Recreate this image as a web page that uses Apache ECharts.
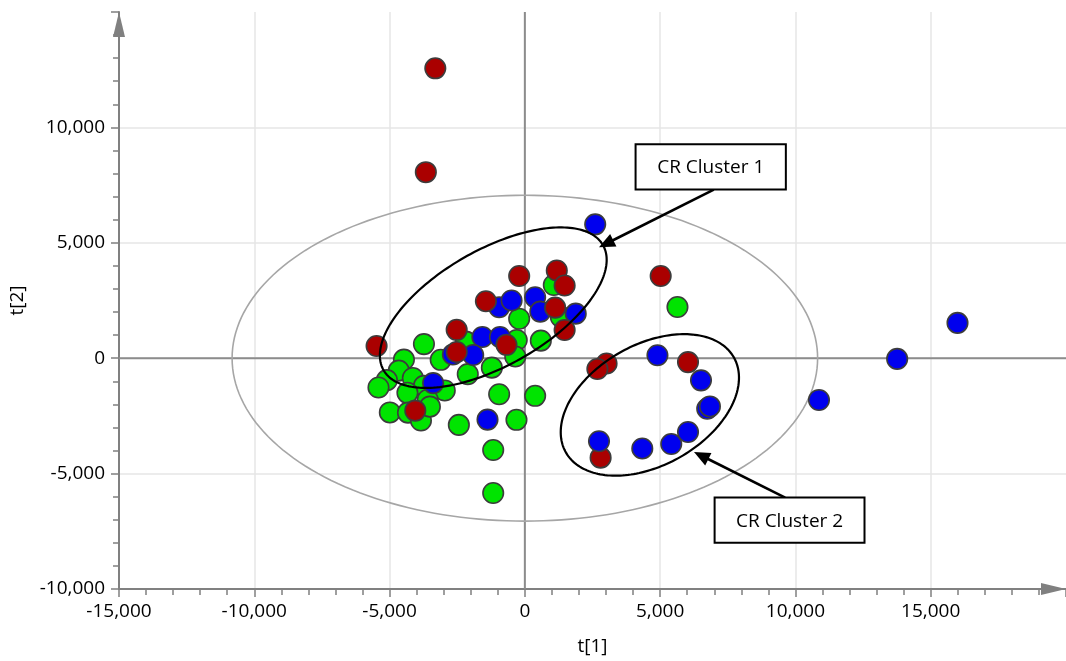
<!DOCTYPE html>
<html>
<head>
<meta charset="utf-8">
<script src="https://cdn.jsdelivr.net/npm/echarts@6/dist/echarts.min.js"></script>
<style>
  html, body { margin: 0; padding: 0; background: #fff; }
  #chart { width: 1066px; height: 661px; }
</style>
</head>
<body>
<div id="chart"></div>
<script>
// Score plot t[1] vs t[2], one array of [t1, t2] scores per class.
const scoresGreen = [
  [-3730, 610], [-4470, -60], [-4660, -540], [-5100, -950], [-5410, -1270],
  [-4140, -860], [-3110, -70], [-2180, 720], [-300, 790], [-355, 75],
  [-1220, -410], [-2110, -690], [-2960, -1400], [-3730, -1200], [-4340, -1500],
  [-3590, -1800], [-4990, -2350], [-4320, -2360], [-3840, -2700], [-3510, -2100],
  [-950, -1560], [380, -1630], [-2440, -2890], [-310, -2670], [-1170, -3980],
  [-1170, -5840], [-210, 1710], [590, 760], [1070, 3170], [1330, 1790],
  [5640, 2220]
];
const scoresBlue = [
  [2600, 5800], [15990, 1530], [13760, -30], [10870, -1810], [4900, 130],
  [6510, -960], [6740, -2190], [6840, -2090], [6030, -3200], [5410, -3720],
  [4340, -3910], [-950, 2210], [-490, 2500], [380, 2640],
  [570, 2020], [1880, 1930], [-1570, 920], [-920, 920], [-1910, 140],
  [-2660, 160], [-3390, -1080], [-1380, -2660]
];
const scoresRed = [
  [-3310, 12560], [-3660, 8060], [-5480, 530], [-2520, 1230], [-2520, 270],
  [-1440, 2470], [-210, 3560], [-680, 580], [1180, 3800], [1470, 3150],
  [1120, 2190], [1470, 1220], [-4050, -2270], [5020, 3560], [3020, -230],
  [2680, -470], [6030, -170], [2800, -4310]
];
// blue scores plotted above the red layer
const scoresBlueTop = [
  [2740, -3600]
];

// Axis ranges and tick step
const xRange = [-15000, 20000];
const yRange = [-10000, 15000];
const tickStep = 5000;

// Hotelling T2 ellipse semi-axes (t1, t2)
const t2Ellipse = { cx: 0, cy: 0, ux: 10820, uy: 0, vx: 0, vy: 7060 };

// Cluster outlines: centre plus two conjugate half-axis vectors, in score units
const clusterOutlines = [
  { cx: -1167, cy: 2190, ux: 4047, uy: 2724, vx: -1089, vy: 2161 },
  { cx: 4620, cy: -2024, ux: 3093, uy: 2081, vx: -1133, vy: 2251 }
];

// Callout boxes (corners in score units) and their pointer arrows
const callouts = [
  { text: 'CR Cluster 1', box: [4092, 9270, 9646, 7306], from: [6983, 7306], to: [2740, 4804] },
  { text: 'CR Cluster 2', box: [7013, -6038, 12553, -7993], from: [9620, -6038], to: [6252, -4065] }
];

const fmt = v => Number(v).toLocaleString('en-US');
const fontFamily = '"Open Sans", sans-serif';
const labelFont = { fontFamily, fontSize: 19, color: '#000' };
const axisGray = '#808080';

function ellipseShape(api, e, color, width) {
  const pts = [];
  const n = 200;
  for (let i = 0; i <= n; i++) {
    const t = (i / n) * Math.PI * 2;
    pts.push(api.coord([
      e.cx + e.ux * Math.cos(t) + e.vx * Math.sin(t),
      e.cy + e.uy * Math.cos(t) + e.vy * Math.sin(t)
    ]));
  }
  return { type: 'polyline', shape: { points: pts }, style: { fill: null, stroke: color, lineWidth: width } };
}

function arrowShapes(api, from, to) {
  const p0 = api.coord(from), p1 = api.coord(to);
  const dx = p1[0] - p0[0], dy = p1[1] - p0[1];
  const len = Math.hypot(dx, dy);
  const ux = dx / len, uy = dy / len;
  const hl = 16, hw = 7;
  const b = [p1[0] - ux * hl, p1[1] - uy * hl];
  return [
    { type: 'line', shape: { x1: p0[0], y1: p0[1], x2: b[0] + ux * 2, y2: b[1] + uy * 2 },
      style: { stroke: '#000', lineWidth: 2.6 } },
    { type: 'polygon', shape: { points: [p1, [b[0] - uy * hw, b[1] + ux * hw], [b[0] + uy * hw, b[1] - ux * hw]] },
      style: { fill: '#000' } }
  ];
}

function calloutShapes(api, c) {
  const a = api.coord([c.box[0], c.box[1]]);
  const d = api.coord([c.box[2], c.box[3]]);
  return [
    { type: 'rect', shape: { x: a[0], y: a[1], width: d[0] - a[0], height: d[1] - a[1] },
      style: { fill: '#fff', stroke: '#000', lineWidth: 2 } },
    { type: 'text', x: (a[0] + d[0]) / 2, y: (a[1] + d[1]) / 2 + 1,
      style: { text: c.text, fill: '#000', font: '19px ' + fontFamily, align: 'center', verticalAlign: 'middle' } }
  ];
}

function scatter(name, data, color, z) {
  return {
    name, type: 'scatter', data, z,
    symbol: 'circle', symbolSize: 20.5,
    itemStyle: { color, borderColor: '#3c3c3c', borderWidth: 1.6, opacity: 1 },
    emphasis: { disabled: true }
  };
}

const chart = echarts.init(document.getElementById('chart'), null, { renderer: 'canvas' });

chart.setOption({
  animation: false,
  backgroundColor: '#fff',
  grid: { left: 118, right: 0, top: 12, bottom: 65, containLabel: false },
  xAxis: {
    type: 'value', min: xRange[0], max: xRange[1], interval: tickStep,
    name: 't[1]', nameLocation: 'middle', nameGap: 48,
    nameTextStyle: { fontFamily, fontSize: 19, color: '#000' },
    axisLine: { show: true, onZero: false, symbol: ['none', 'triangle'], symbolSize: [12, 25], symbolOffset: [0, -12.5],
      lineStyle: { color: axisGray, width: 2 } },
    axisTick: { show: true, length: 8, lineStyle: { color: axisGray, width: 1.5 } },
    minorTick: { show: true, splitNumber: 5, length: 6, lineStyle: { color: axisGray, width: 1.5 } },
    axisLabel: Object.assign({ margin: 13, showMaxLabel: false, formatter: fmt }, labelFont),
    splitLine: { show: true, showMinLine: false, showMaxLine: false, lineStyle: { color: '#e6e6e6', width: 1.5 } }
  },
  yAxis: {
    type: 'value', min: yRange[0], max: yRange[1], interval: tickStep,
    name: 't[2]', nameLocation: 'middle', nameGap: 92, nameRotate: 90,
    nameTextStyle: { fontFamily, fontSize: 19, color: '#000' },
    axisLine: { show: true, onZero: false, symbol: ['none', 'triangle'], symbolSize: [12, 25], symbolOffset: [0, -12.5],
      lineStyle: { color: axisGray, width: 2 } },
    axisTick: { show: true, length: 8, lineStyle: { color: axisGray, width: 1.5 } },
    minorTick: { show: true, splitNumber: 5, length: 6, lineStyle: { color: axisGray, width: 1.5 } },
    axisLabel: Object.assign({ margin: 14, showMaxLabel: false, formatter: fmt }, labelFont),
    splitLine: { show: true, showMinLine: false, showMaxLine: false, lineStyle: { color: '#e6e6e6', width: 1.5 } }
  },
  series: [
    {
      // zero lines and the T2 ellipse, beneath the points
      type: 'custom', z: 1, silent: true, clip: false,
      data: [[0, 0]],
      renderItem: (params, api) => {
        const l = api.coord([0, yRange[0]]), t = api.coord([0, yRange[1]]);
        const a = api.coord([xRange[0], 0]), b = api.coord([xRange[1], 0]);
        return {
          type: 'group',
          children: [
            { type: 'line', shape: { x1: l[0], y1: l[1], x2: t[0], y2: t[1] }, style: { stroke: '#8c8c8c', lineWidth: 2 } },
            { type: 'line', shape: { x1: a[0], y1: a[1], x2: b[0], y2: b[1] }, style: { stroke: '#8c8c8c', lineWidth: 2 } },
            ellipseShape(api, t2Ellipse, '#a6a6a6', 1.6)
          ]
        };
      }
    },
    scatter('green', scoresGreen, '#00e400', 3),
    scatter('blue', scoresBlue, '#0000ee', 4),
    scatter('red', scoresRed, '#aa0000', 5),
    scatter('blue', scoresBlueTop, '#0000ee', 6),
    {
      // cluster outlines and callouts, above the points
      type: 'custom', z: 10, silent: true, clip: false,
      data: [[0, 0]],
      renderItem: (params, api) => {
        const children = clusterOutlines.map(e => ellipseShape(api, e, '#000', 2.2));
        callouts.forEach(c => {
          children.push(...arrowShapes(api, c.from, c.to));
          children.push(...calloutShapes(api, c));
        });
        return { type: 'group', children };
      }
    }
  ]
});
</script>
</body>
</html>
